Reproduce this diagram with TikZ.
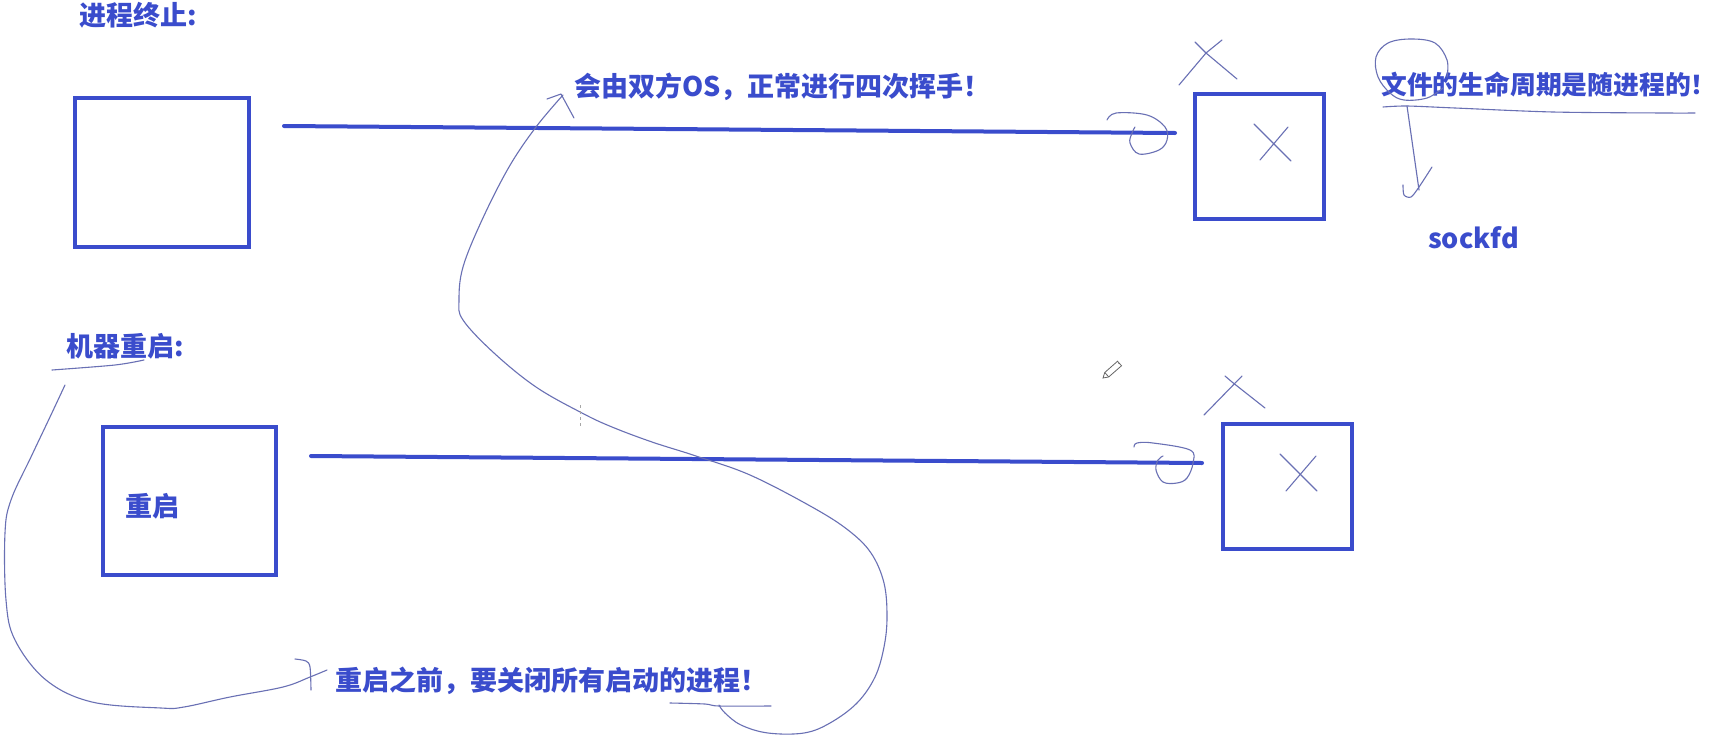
\documentclass[tikz,border=0pt]{standalone}
\usepackage{fontspec}
\newfontfamily\cjk{Noto Sans CJK SC}
\definecolor{blu}{RGB}{58,76,204}
\definecolor{pen}{RGB}{105,112,180}
\begin{document}
\begin{tikzpicture}[x=1pt,y=-1pt,
  box/.style={draw=blu,line width=4pt,inner sep=0pt},
  bigline/.style={draw=blu,line width=4pt,line cap=round},
  lbl/.style={text=blu,font=\cjk\bfseries\fontsize{27}{30}\selectfont,inner sep=0pt,anchor=west},
  hand/.style={draw=pen,line width=1.1pt,line cap=round,line join=round},
  tick/.style={draw=gray!70,line width=0.8pt,dashed},
  pencil/.style={draw=gray!80!black,line width=0.8pt,fill=white}
]
\useasboundingbox[fill=white] (0,0) rectangle (1718,739);

% boxes
\node[box,minimum width=174pt,minimum height=149pt] (b1) at (162,172.5) {};
\node[box,minimum width=129pt,minimum height=125pt] (b2) at (1259.5,156.5) {};
\node[box,minimum width=173pt,minimum height=148pt] (b3) at (189.5,501) {};
\node[box,minimum width=129pt,minimum height=125pt] (b4) at (1287.5,486.5) {};

% texts
\node[lbl] (t1) at (79,15) {进程终止:};
\node[lbl] (t2) at (574,87) {会由双方OS，正常进行四次挥手！};
\node[lbl,font=\cjk\bfseries\fontsize{25.8}{30}\selectfont] (t3) at (1381,85) {文件的生命周期是随进程的！};
\node[lbl] (t4) at (1428,238) {sockfd};
\node[lbl] (t5) at (66,346) {机器重启:};
\node[lbl] (t6) at (125,506) {重启};
\node[lbl] (t7) at (335,681) {重启之前，要关闭所有启动的进程！};

% connections
\coordinate (l1a) at (284,126); \coordinate (l1b) at (1175,133);
\draw[bigline] (l1a) -- (l1b);
\coordinate (l2a) at (311,456); \coordinate (l2b) at (1202,463);
\draw[bigline] (l2a) -- (l2b);

% big S curve with arrow
\draw[hand] plot[smooth,tension=0.6] coordinates {(563,95) (536,127) (509,167) (482,220) (463,267) (459,300) (463,320) (494,353) (536,387) (582,413) (612,427) (652,442) (696,456) (750,475) (812,507) (848,530) (871,553) (884,583) (887,617) (884,647) (875,677) (857,703) (830,723) (804,733) (768,733) (741,725) (725,713) (719,705)};
\draw[hand] (547,99) -- (561,94) -- (574,118);
\draw[hand] plot[smooth] coordinates {(670,703) (705,704) (719,706) (771,706)};

% left big curve and bracket
\draw[hand] plot[smooth,tension=0.6] coordinates {(327,670) (310,677) (283,687) (230,697) (184,707) (161,708) (92,702) (46,680) (15,640) (6,600) (5,533) (11,500) (31,457) (50,417) (65,385)};
\draw[hand] plot[smooth] coordinates {(295,659) (306,661) (310,667) (311,690)};
\draw[hand] plot[smooth] coordinates {(52,370) (115,365) (144,360)};

% scribbles at line ends
\draw[hand] plot[smooth,tension=0.6] coordinates {(1107,120) (1116,113) (1147,115) (1165,127) (1167,140) (1159,150) (1139,154) (1130,143) (1132,133) (1135,127)};
\draw[hand] plot[smooth,tension=0.6] coordinates {(1134,447) (1137,443) (1153,443) (1190,450) (1193,463) (1187,478) (1177,483) (1163,482) (1156,470) (1158,460) (1163,456)};

% hand marks above boxes
\draw[hand] (1179,85) -- (1206,53) -- (1222,40);
\draw[hand] (1195,42) -- (1206,53) -- (1237,79);
\draw[hand] (1204,415) -- (1242,376);
\draw[hand] (1225,376) -- (1232,382) -- (1265,408);

% crosses inside boxes
\draw[hand] (1254,124) -- (1291,161);
\draw[hand] (1288,127) -- (1260,160);
\draw[hand] (1280,454) -- (1317,491);
\draw[hand] (1316,456) -- (1286,491);

% circle, underline and arrow at the right
\draw[hand] plot[smooth,tension=0.6] coordinates {(1447,77) (1447,60) (1435,43) (1411,39) (1388,43) (1376,57) (1378,77) (1390,93) (1404,100) (1427,98) (1443,88)};
\draw[hand] plot[smooth,tension=0.5] coordinates {(1383,107) (1407,106) (1455,108) (1553,112) (1664,113) (1695,113)};
\draw[hand] (1407,106) -- (1419,190);
\draw[hand] plot[smooth,tension=0.5] coordinates {(1403,185) (1404,195) (1411,197) (1419,187) (1432,167)};

% small dashed tick
\draw[tick] (580,405) -- (580,427);

% pencil cursor
\draw[pencil] (1103,378) -- (1108.7,376.95) -- (1121.5,365.75) -- (1117.5,361.25) -- (1104.8,372.45) -- cycle;
\draw[pencil] (1108.7,376.95) -- (1104.8,372.45);
\draw[pencil] (1119,362.9) -- (1118.5,363.5);
\end{tikzpicture}
\end{document}
